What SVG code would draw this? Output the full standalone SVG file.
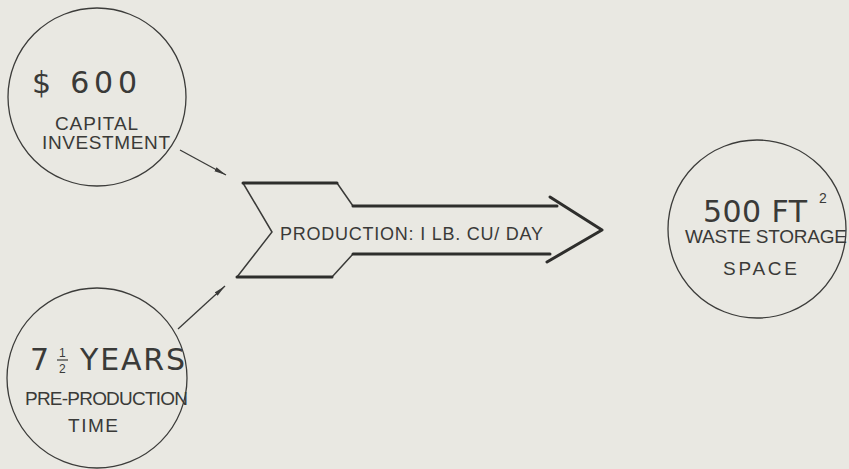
<svg xmlns="http://www.w3.org/2000/svg" width="849" height="469" viewBox="0 0 849 469">
<defs>
<style>
.bg{fill:#e9e8e2}
.node{fill:none;stroke:#3c3c3a;stroke-width:1.3}
.t{font-family:"Liberation Sans","DejaVu Sans",sans-serif;fill:#3a3a38}
.big{font-family:"DejaVu Sans","Liberation Sans",sans-serif;font-size:30px}
.sm{font-size:19px}
.tiny{font-size:12px}
.thin{fill:none;stroke:#3a3a38;stroke-width:1.5}
.thick{fill:none;stroke:#2e2e2c;stroke-width:3;stroke-linecap:round;stroke-linejoin:round}
.conn{fill:none;stroke:#3a3a38;stroke-width:1.3}
</style>
<marker id="ah" viewBox="0 0 12 6" refX="12" refY="3" markerWidth="12" markerHeight="6" markerUnits="userSpaceOnUse" orient="auto">
<path d="M0,0.8 L12,3 L0,5.2 Z" fill="#3a3a38"/>
</marker>
</defs>
<rect class="bg" x="0" y="0" width="849" height="469"/>

<g id="capital">
<circle class="node" cx="97" cy="97" r="89"/>
<text class="t big" x="32" y="93" textLength="105" lengthAdjust="spacing">$ 600</text>
<text class="t sm" x="55" y="130" textLength="83" lengthAdjust="spacing">CAPITAL</text>
<text class="t sm" x="42" y="149" textLength="128" lengthAdjust="spacing">INVESTMENT</text>
</g>

<g id="time">
<circle class="node" cx="97" cy="378" r="90"/>
<text class="t big" x="30" y="370">7</text>
<text class="t tiny" x="59" y="357">1</text>
<line x1="57" y1="360" x2="68" y2="360" stroke="#3a3a38" stroke-width="1.2"/>
<text class="t tiny" x="59" y="373">2</text>
<text class="t big" x="80" y="370" textLength="105" lengthAdjust="spacing">YEARS</text>
<text class="t sm" x="25" y="405" textLength="163" lengthAdjust="spacing">PRE-PRODUCTION</text>
<text class="t sm" x="68" y="432" textLength="50" lengthAdjust="spacing">TIME</text>
</g>

<g id="production">
<path class="thin" d="M243,183 L272,232 L237,277 M353,254 L332,277 M337,183 L353,206"/>
<path class="thick" d="M243,183 L337,183 M353,206 L557,206 M353,254 L550,254 M237,277 L332,277 M550,197 L602,230 L547,262"/>
<text class="t" font-size="18" x="280" y="240" textLength="263" lengthAdjust="spacing">PRODUCTION: I LB. CU/ DAY</text>
</g>

<g id="waste">
<circle class="node" cx="757" cy="229" r="89"/>
<text class="t big" x="703" y="222" textLength="104" lengthAdjust="spacing">500 FT</text>
<text class="t" font-size="14" x="819" y="203">2</text>
<text class="t sm" x="685" y="243" textLength="162" lengthAdjust="spacing">WASTE STORAGE</text>
<text class="t sm" x="723" y="275" textLength="74" lengthAdjust="spacing">SPACE</text>
</g>

<g id="connectors">
<line class="conn" x1="180" y1="150" x2="226" y2="175" marker-end="url(#ah)"/>
<line class="conn" x1="178" y1="329" x2="225" y2="286" marker-end="url(#ah)"/>
</g>
</svg>
